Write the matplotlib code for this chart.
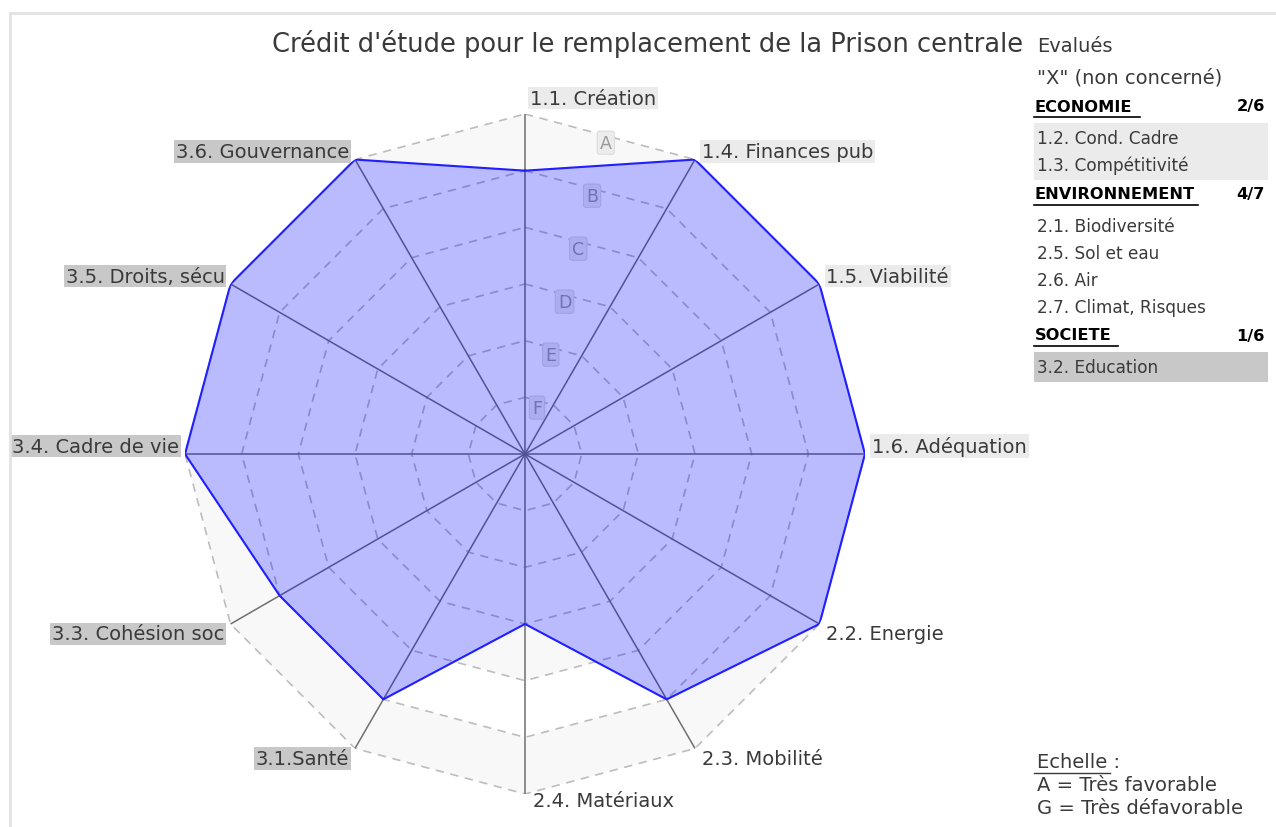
import numpy as np
import matplotlib
matplotlib.use("Agg")
from matplotlib import pyplot as plt
from matplotlib.lines import Line2D
from matplotlib.patches import Rectangle

# --- data ---
axis_labels = [
    "1.1. Création", "1.4. Finances pub", "1.5. Viabilité", "1.6. Adéquation",
    "2.2. Energie", "2.3. Mobilité", "2.4. Matériaux", "3.1.Santé",
    "3.3. Cohésion soc", "3.4. Cadre de vie", "3.5. Droits, sécu", "3.6. Gouvernance",
]
grades = ["B", "A", "A", "A", "A", "B", "D", "B", "B", "A", "A", "A"]
scale_letters = ["A", "B", "C", "D", "E", "F", "G"]

eco_items = ["1.2. Cond. Cadre", "1.3. Compétitivité"]
env_items = ["2.1. Biodiversité", "2.5. Sol et eau", "2.6. Air", "2.7. Climat, Risques"]
soc_items = ["3.2. Education"]
eco_score, env_score, soc_score = "2/6", "4/7", "1/6"

title = "Crédit d'étude pour le remplacement de la Prison centrale"

# --- styles ---
W, H = 1276, 828
TXT = "#3a3a3a"
LIGHT_BOX = "#ebebeb"
DARK_BOX = "#c8c8c8"
group_box = {"1": LIGHT_BOX, "2": None, "3": DARK_BOX}

plt.rcParams["font.family"] = ["DejaVu Sans"]

fig = plt.figure(figsize=(W / 100, H / 100), dpi=100)


def fx(x):
    return x / W


def fy(y):
    return 1 - y / H


# frame
fig.add_artist(Rectangle((fx(10), fy(900)), 2, fy(14) - fy(900), transform=fig.transFigure,
                         fill=False, ec="#e2e2e2", lw=2))

# radar axes: centre (525, 455) px, radius 340 px
cx, cy, rad = 525, 455, 340
ax = fig.add_axes([fx(cx - rad), fy(cy + rad), (2 * rad) / W, (2 * rad) / H], projection="polar")
ax.set_theta_zero_location("N")
ax.set_theta_direction(-1)
ax.axis("off")
ax.patch.set_alpha(0)

n = len(axis_labels)
nmax = len(scale_letters) - 1
angles = np.linspace(0, 2 * np.pi, n, endpoint=False)
closed = np.append(angles, angles[0])
values = np.array([nmax - scale_letters.index(g) for g in grades], dtype=float)
vals = np.append(values, values[0])
ax.set_ylim(0, nmax)

# alternating bands
for r in range(nmax, 0, -1):
    col = "#f8f8f8" if (nmax - r) % 2 == 0 else "white"
    ax.fill(closed, [r] * (n + 1), color=col, lw=0, zorder=0)
# plain white under the evaluated area
ax.fill(closed, vals, color="white", lw=0, zorder=0.5)

# rings
for r in range(1, nmax + 1):
    ax.plot(closed, [r] * (n + 1), color="#bdbdbd", lw=1.2, ls=(0, (5, 4)), zorder=1)

# spokes
for a in angles:
    ax.plot([a, a], [0, nmax], color="#707070", lw=1.1, zorder=1)

# scale letters
half = np.pi / n
for i, letter in enumerate(scale_letters[:-1]):
    r = (nmax - i) * np.cos(half) - 0.12
    ax.text(half * 0.97, r, letter, ha="center", va="center", fontsize=12.5, color="#9a9a9a", zorder=2,
            bbox=dict(boxstyle="round,pad=0.15", fc="#ececec", ec="#dddddd", lw=0.8))

# values
ax.fill(closed, vals, color=(0.0, 0.0, 1.0), alpha=0.27, lw=0, zorder=3)
ax.plot(closed, vals, color="#1f1fff", lw=1.5, zorder=4)

# axis labels
for a, lab in zip(angles, axis_labels):
    s = np.sin(a)
    c = np.cos(a)
    if abs(s) < 1e-6 and c > 0:
        ha, dx, dy = "left", 5, 16
    elif abs(s) < 1e-6:
        ha, dx, dy = "left", 8, -7
    else:
        ha = "left" if s > 0 else "right"
        dx = 7 if s > 0 else -6
        dy = 8 if c > -0.1 else -10
    fc = group_box[lab[0]]
    bb = dict(boxstyle="square,pad=0.1", fc=fc, ec="none") if fc else None
    ax.annotate(lab, xy=(a, nmax), xytext=(dx, dy), textcoords="offset pixels",
                ha=ha, va="center", fontsize=14, color=TXT, bbox=bb, zorder=5,
                annotation_clip=False)

# title
fig.text(fx(648), fy(44), title, ha="center", va="center", fontsize=18.5, color=TXT)

# right panel
px, pr = 1037, 1265
fig.text(fx(px), fy(47), "Evalués", ha="left", va="center", fontsize=14, color=TXT)
fig.text(fx(px), fy(78), '"X" (non concerné)', ha="left", va="center", fontsize=14, color=TXT)

sections = [
    ("ECONOMIE", eco_score, eco_items, LIGHT_BOX, 107, 1140),
    ("ENVIRONNEMENT", env_score, env_items, None, 195, 1198),
    ("SOCIETE", soc_score, soc_items, DARK_BOX, 336, 1118),
]
row_h = 27
for head, score, items, box, y0, uline in sections:
    fig.text(fx(px - 2), fy(y0), head, ha="left", va="center", fontsize=11.7,
             fontweight="bold", color="black")
    fig.text(fx(pr), fy(y0), score, ha="right", va="center", fontsize=11.7,
             fontweight="bold", color="black")
    fig.add_artist(Line2D([fx(px - 3), fx(uline)], [fy(y0 + 11)] * 2, color="black", lw=1.2,
                          transform=fig.transFigure))
    top = y0 + 17
    if box:
        fig.add_artist(Rectangle((fx(px - 3), fy(top + row_h * len(items) + 3)),
                                 fx(1268) - fx(px - 3), (row_h * len(items) + 3) / H,
                                 transform=fig.transFigure, fc=box, ec="none", zorder=0))
    for k, it in enumerate(items):
        fig.text(fx(px), fy(top + 15 + row_h * k), it, ha="left", va="center",
                 fontsize=12.2, color=TXT)

# scale legend
fig.text(fx(px), fy(763), "Echelle :", ha="left", va="center", fontsize=14, color=TXT)
fig.add_artist(Line2D([fx(px - 3), fx(1110)], [fy(774)] * 2, color=TXT, lw=1,
                      transform=fig.transFigure))
fig.text(fx(px), fy(786), "A = Très favorable", ha="left", va="center", fontsize=14, color=TXT)
fig.text(fx(px), fy(809), "G = Très défavorable", ha="left", va="center", fontsize=14, color=TXT)

fig.savefig("out.png", dpi=100)
